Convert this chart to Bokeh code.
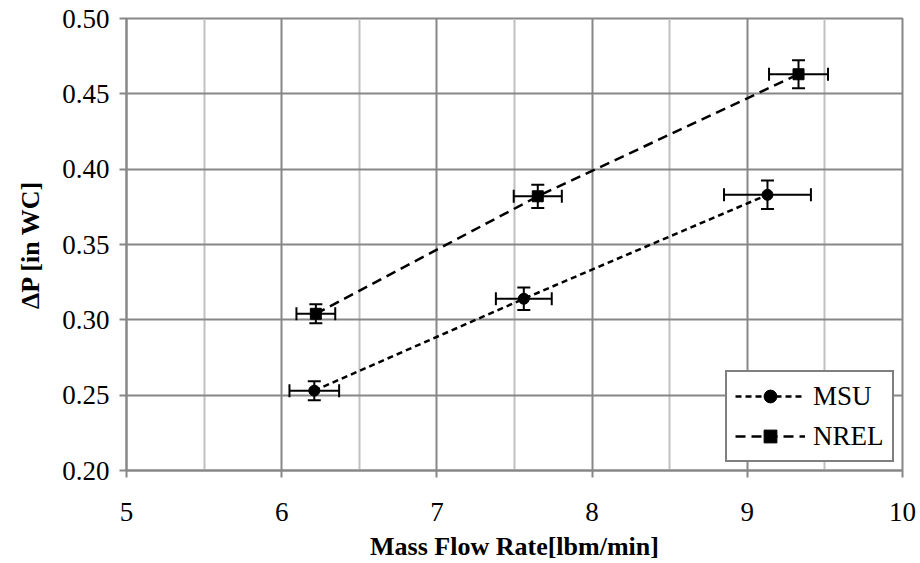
from bokeh.plotting import figure
from bokeh.models import (FixedTicker, PrintfTickFormatter, Whisker, TeeHead,
                          ColumnDataSource, Legend, LegendItem, Range1d)
from bokeh.embed import file_html
from bokeh.resources import INLINE

# Data
msu_x = [6.21, 7.56, 9.13]
msu_y = [0.253, 0.314, 0.383]
msu_xerr = [0.16, 0.18, 0.28]
msu_yerr = [0.0063, 0.0074, 0.0095]

nrel_x = [6.22, 7.65, 9.33]
nrel_y = [0.304, 0.382, 0.463]
nrel_xerr = [0.125, 0.155, 0.19]
nrel_yerr = [0.0063, 0.0077, 0.0093]

x_ticks = [5, 6, 7, 8, 9, 10]
x_minor = [5.5, 6.5, 7.5, 8.5, 9.5]
y_ticks = [0.20, 0.25, 0.30, 0.35, 0.40, 0.45, 0.50]

FONT = "Liberation Serif"
DARK = "#878787"
LIGHT = "#c0c0c0"

p = figure(width=920, height=563, output_backend="svg", toolbar_location=None,
           x_range=Range1d(5, 10), y_range=Range1d(0.20, 0.50),
           min_border_left=126, min_border_right=18, min_border_top=18,
           min_border_bottom=93)
p.background_fill_color = "white"
p.border_fill_color = "white"
p.outline_line_color = DARK
p.outline_line_width = 2

p.xaxis.ticker = FixedTicker(ticks=x_ticks, minor_ticks=x_minor)
p.yaxis.ticker = FixedTicker(ticks=y_ticks)
p.yaxis.formatter = PrintfTickFormatter(format="%.2f")

for ax in (p.xaxis, p.yaxis):
    ax.axis_line_color = DARK
    ax.axis_line_width = 2
    ax.major_tick_line_color = DARK
    ax.major_tick_line_width = 2
    ax.major_tick_out = 7
    ax.major_tick_in = 0
    ax.minor_tick_line_color = None
    ax.major_label_text_font = FONT
    ax.major_label_text_font_size = "27px"
    ax.major_label_text_color = "black"
    ax.axis_label_text_font = FONT
    ax.axis_label_text_font_size = "26px"
    ax.axis_label_text_font_style = "bold"
    ax.axis_label_text_color = "black"

p.xaxis.axis_label = "Mass Flow Rate[lbm/min]"
p.yaxis.axis_label = "ΔP [in WC]"
p.xaxis.major_label_standoff = 25
p.xaxis.axis_label_standoff = 8
p.yaxis.major_label_standoff = 10
p.yaxis.axis_label_standoff = 14

p.xgrid.grid_line_color = DARK
p.xgrid.grid_line_width = 2
p.xgrid.minor_grid_line_color = LIGHT
p.xgrid.minor_grid_line_width = 2
p.ygrid.grid_line_color = DARK
p.ygrid.grid_line_width = 2

def add_series(xs, ys, xerr, yerr, marker, dash):
    src = ColumnDataSource(dict(
        x=xs, y=ys,
        xl=[a - e for a, e in zip(xs, xerr)], xu=[a + e for a, e in zip(xs, xerr)],
        yl=[a - e for a, e in zip(ys, yerr)], yu=[a + e for a, e in zip(ys, yerr)],
    ))
    ln = p.line("x", "y", source=src, line_color="black", line_width=2.5,
                line_dash=dash)
    for base, lo, hi, dim in (("y", "xl", "xu", "width"), ("x", "yl", "yu", "height")):
        w = Whisker(source=src, base=base, lower=lo, upper=hi, dimension=dim,
                    line_color="black", line_width=2,
                    upper_head=TeeHead(size=13, line_color="black", line_width=2),
                    lower_head=TeeHead(size=13, line_color="black", line_width=2))
        p.add_layout(w)
    sc = p.scatter("x", "y", source=src, marker=marker, size=11,
                   fill_color="black", line_color="black")
    return ln, sc

msu_ln, msu_sc = add_series(msu_x, msu_y, msu_xerr, msu_yerr, "circle", "6 4")
nrel_ln, nrel_sc = add_series(nrel_x, nrel_y, nrel_xerr, nrel_yerr, "square", "10 6")

legend = Legend(items=[LegendItem(label="MSU", renderers=[msu_ln, msu_sc]),
                       LegendItem(label="NREL", renderers=[nrel_ln, nrel_sc])],
                location=(599, 8))
legend.border_line_color = "black"
legend.border_line_width = 2
legend.background_fill_color = "white"
legend.background_fill_alpha = 1
legend.label_text_font = FONT
legend.label_text_font_size = "27px"
legend.label_text_color = "black"
legend.glyph_width = 70
legend.glyph_height = 32
legend.label_height = 32
legend.spacing = 8
legend.padding = 8
legend.margin = 0
legend.label_standoff = 8
p.add_layout(legend, "center")

open("out.html", "w").write(file_html(p, INLINE))
